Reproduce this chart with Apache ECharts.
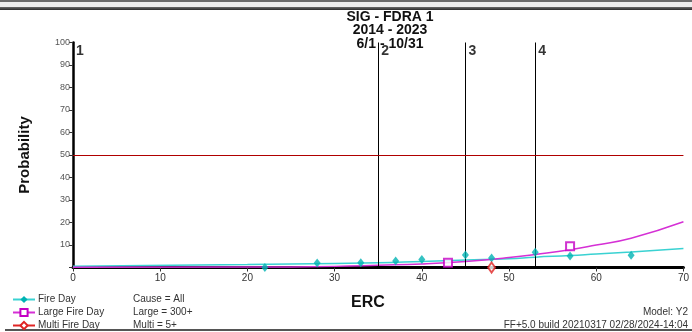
<!DOCTYPE html>
<html>
<head>
<meta charset="utf-8">
<script src="https://cdn.jsdelivr.net/npm/echarts@6/dist/echarts.min.js"></script>
<style>
  html, body { margin: 0; padding: 0; background: #fff; }
  #chart { width: 692px; height: 332px; }
</style>
</head>
<body>
<div id="chart"></div>
<script>
// Title lines
const titleLines = ['SIG - FDRA 1', '2014 - 2023', '6/1 - 10/31'];

// Axis ticks
const xTicks = [0, 10, 20, 30, 40, 50, 60, 70];
const yTicks = [0, 10, 20, 30, 40, 50, 60, 70, 80, 90, 100];

// Observed fire-day probabilities by ERC bin
const fireDayErc = [22, 28, 33, 37, 40, 45, 48, 53, 57, 64];
const fireDayProb = [0.0, 2.0, 2.1, 2.9, 3.6, 5.6, 4.2, 6.8, 5.1, 5.4];

const largeErc = [43, 57];
const largeProb = [2.1, 9.4];

const multiErc = [48];
const multiProb = [0.0];

// Logistic fits
const fireFitErc = [0, 8.5, 20, 25, 30, 35, 40, 45, 50, 53, 57, 60, 64, 70];
const fireFitProb = [0.6, 0.9, 1.3, 1.6, 1.8, 2.1, 2.7, 3.3, 3.9, 4.6, 5.3, 6.0, 6.9, 8.4];

const largeFitErc = [0, 20, 30, 35, 40, 45, 50, 53, 57, 60, 64, 70];
const largeFitProb = [0.1, 0.2, 0.5, 1.0, 1.6, 2.7, 4.4, 5.8, 7.9, 10.0, 13.0, 20.3];

// Decision breakpoints
const breakErc = [0, 35, 45, 53];
const breakLabels = ['1', '2', '3', '4'];
const thresholdProb = 50;

// Footer notes
const criteriaLines = ['Cause = All', 'Large = 300+', 'Multi = 5+'];
const modelText = 'Model: Y2';
const buildText = 'FF+5.0 build 20210317 02/28/2024-14:04';
const xName = 'ERC';
const yName = 'Probability';
const legendNames = ['Fire Day', 'Large Fire Day', 'Multi Fire Day'];

const zip = (a, b) => a.map((v, i) => [v, b[i]]);
const FONT = '"Liberation Sans", Arial, sans-serif';

const chart = echarts.init(document.getElementById('chart'), null, { renderer: 'canvas' });

const graphics = [
  // window frame strip
  { type: 'rect', shape: { x: 0, y: 0, width: 692, height: 2 }, style: { fill: '#6a6a6a' }, silent: true },
  { type: 'rect', shape: { x: 0, y: 2, width: 692, height: 5 }, style: { fill: '#ececec' }, silent: true },
  { type: 'rect', shape: { x: 0, y: 7, width: 692, height: 3 }, style: {
      fill: new echarts.graphic.LinearGradient(0, 0, 0, 1, [{ offset: 0, color: '#6a6a6a' }, { offset: 1, color: '#2a2a2a' }]) }, silent: true },
  { type: 'rect', shape: { x: 5, y: 329, width: 687, height: 2 }, style: { fill: '#555' }, silent: true },
  { type: 'text', x: 368, y: 303, style: { text: xName, font: 'bold 16px ' + FONT, fill: '#111', align: 'center', verticalAlign: 'middle' } }
];
titleLines.forEach((t, i) => {
  graphics.push({ type: 'text', x: 390, y: 17 + i * 13.5, style: {
    text: t, font: 'bold 14px ' + FONT, fill: '#111', align: 'center', verticalAlign: 'middle' } });
});
criteriaLines.forEach((t, i) => {
  graphics.push({ type: 'text', x: 133, y: 299 + i * 13, style: {
    text: t, font: '10px ' + FONT, fill: '#333', align: 'left', verticalAlign: 'middle' } });
});
graphics.push({ type: 'text', x: 688, y: 312, style: { text: modelText, font: '10px ' + FONT, fill: '#333', align: 'right', verticalAlign: 'middle' } });
graphics.push({ type: 'text', x: 688, y: 325, style: { text: buildText, font: '10px ' + FONT, fill: '#333', align: 'right', verticalAlign: 'middle' } });

// One legend block per row so the rows stack without wrapping
const legends = legendNames.map((n, i) => ({
  data: [n],
  orient: 'horizontal',
  left: 12, top: 294.5 + i * 13, padding: 0,
  itemWidth: 22, itemHeight: 9,
  textStyle: { fontSize: 10, color: '#333', fontFamily: FONT, padding: [0, 0, 0, -2] },
  selectedMode: false
}));

const option = {
  animation: false,
  backgroundColor: '#fff',
  textStyle: { fontFamily: FONT },
  grid: { left: 73, right: 4, top: 42.5, bottom: 64.5, containLabel: false },
  legend: legends,
  xAxis: {
    type: 'value', min: xTicks[0], max: xTicks[xTicks.length - 1], interval: 10,
    axisLine: { lineStyle: { color: '#000', width: 3 } },
    axisTick: { show: true, length: 4, lineStyle: { color: '#333', width: 1 } },
    axisLabel: { fontSize: 10, color: '#333', margin: 6, fontFamily: FONT },
    splitLine: { show: false }
  },
  yAxis: {
    type: 'value', min: yTicks[0], max: yTicks[yTicks.length - 1], interval: 10,
    name: yName, nameLocation: 'middle', nameGap: 41, nameRotate: 90,
    nameTextStyle: { fontSize: 15, fontWeight: 'bold', color: '#111', fontFamily: FONT },
    axisLine: { show: true, lineStyle: { color: '#000', width: 2.5 } },
    axisTick: { show: true, length: 4, lineStyle: { color: '#333', width: 1 } },
    axisLabel: { fontSize: 9, color: '#555', margin: 3, fontFamily: FONT,
      formatter: v => (v === 0 ? '' : String(v)) },
    splitLine: { show: false }
  },
  series: [
    {
      name: 'Fire Day', type: 'line', data: zip(fireFitErc, fireFitProb),
      symbol: 'diamond', symbolSize: [7, 9], showSymbol: false, smooth: true,
      lineStyle: { color: '#3ad2d2', width: 1.5 }, itemStyle: { color: '#00b3b3' }, z: 4
    },
    {
      name: 'Large Fire Day', type: 'line', data: zip(largeFitErc, largeFitProb),
      symbol: 'emptyRect', symbolSize: 8, showSymbol: false, smooth: true,
      lineStyle: { color: '#d530d5', width: 1.5 }, itemStyle: { color: '#c400c4', borderWidth: 1.5 }, z: 4
    },
    {
      name: 'Multi Fire Day', type: 'line', data: [],
      symbol: 'emptyDiamond', symbolSize: [7, 10], showSymbol: false,
      lineStyle: { color: '#e02424', width: 1.5 }, itemStyle: { color: '#e02424', borderWidth: 1.2 }
    },
    {
      name: 'Fire Day', type: 'scatter', data: zip(fireDayErc, fireDayProb),
      symbol: 'diamond', symbolSize: [7, 9], itemStyle: { color: '#00b3b3' }, z: 5
    },
    {
      name: 'Large Fire Day', type: 'scatter', data: zip(largeErc, largeProb),
      symbol: 'emptyRect', symbolSize: 8, itemStyle: { color: '#c400c4', borderWidth: 1.5 }, z: 5
    },
    {
      name: 'Multi Fire Day', type: 'scatter', data: zip(multiErc, multiProb),
      symbol: 'emptyDiamond', symbolSize: [7, 10], itemStyle: { color: '#e02424', borderWidth: 1.2 }, z: 5
    },
    {
      name: 'breaks', type: 'scatter',
      data: breakErc.map((v, i) => ({ value: [v, 100], label: { formatter: breakLabels[i] } })),
      symbolSize: 0, silent: true, z: 6,
      label: { show: true, position: [3, 2], align: 'left', verticalAlign: 'top',
        fontSize: 14, fontWeight: 'bold', color: '#000', fontFamily: FONT },
      markLine: {
        silent: true, symbol: 'none',
        label: { show: false },
        data: [
          ...breakErc.slice(1).map(v => ({ xAxis: v, lineStyle: { color: '#000000', width: 1, type: 'solid' } })),
          { yAxis: thresholdProb, lineStyle: { color: '#b00000', width: 1, type: 'solid' } }
        ]
      }
    }
  ],
  graphic: graphics
};

chart.setOption(option);
</script>
</body>
</html>
